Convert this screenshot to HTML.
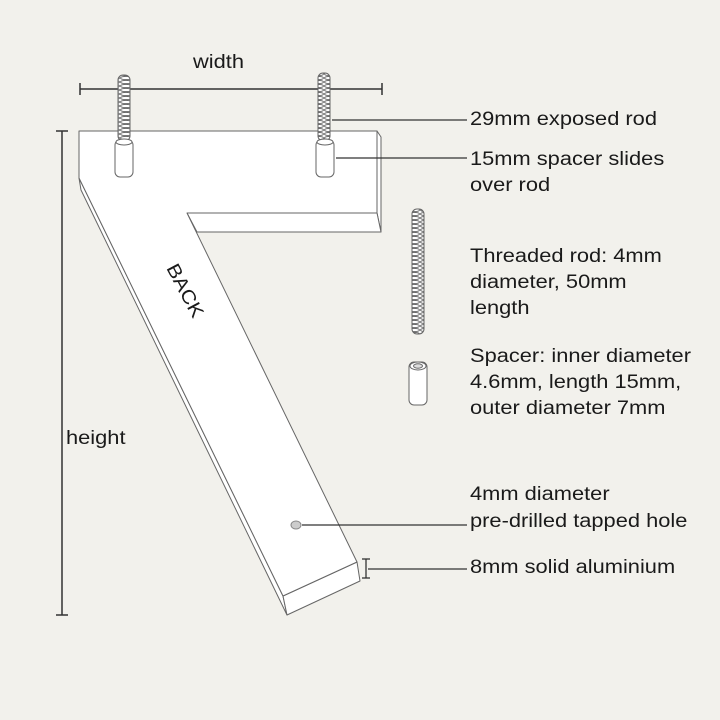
<!DOCTYPE html>
<html><head><style>
html,body{margin:0;padding:0;background:#f2f1ec;}
svg{display:block}
text{font-family:"Liberation Sans",sans-serif;font-size:19px;fill:#1a1a1a}
</style></head><body>
<svg width="720" height="720" viewBox="0 0 720 720" xmlns="http://www.w3.org/2000/svg">
<defs>
<pattern id="thr" width="12" height="4" patternUnits="userSpaceOnUse">
<rect width="12" height="4" fill="#fff"/>
<ellipse cx="6" cy="2" rx="5.5" ry="1.6" fill="none" stroke="#666" stroke-width="0.9"/>
</pattern>
</defs>
<rect width="720" height="720" fill="#f2f1ec"/>
<g stroke="#333" stroke-width="1.5" fill="none">
<line x1="80" y1="89" x2="382" y2="89"/><line x1="80" y1="83" x2="80" y2="95"/><line x1="382" y1="83" x2="382" y2="95"/>
<line x1="62" y1="131" x2="62" y2="615"/><line x1="56" y1="131" x2="68" y2="131"/><line x1="56" y1="615" x2="68" y2="615"/>
</g>
<g stroke="#666" stroke-width="1" fill="#fff" stroke-linejoin="round">
<polygon points="79,178 283,596 287,615 81,190"/>
<polygon points="283,596 357,562 360,581 287,615"/>
<polygon points="377,131 381,137 381,232 377,213"/>
<polygon points="187,213 377,213 381,232 197,232"/>
<polygon points="79,131 377,131 377,213 187,213 357,562 283,596 79,178"/>
</g>
<text transform="translate(166,268) rotate(62) scale(1.12,1)" font-size="17">BACK</text>
<g stroke="#666" stroke-width="1">
<rect x="118" y="75" width="12" height="66" rx="5" fill="url(#thr)"/>
<rect x="318" y="73" width="12" height="68" rx="5" fill="url(#thr)"/>
<rect x="115" y="140" width="18" height="37" rx="5" fill="#fff"/>
<ellipse cx="124" cy="142" rx="8" ry="3" fill="#fff"/>
<rect x="316" y="140" width="18" height="37" rx="5" fill="#fff"/>
<ellipse cx="325" cy="142" rx="8" ry="3" fill="#fff"/>
<rect x="412" y="209" width="12" height="125" rx="5" fill="url(#thr)"/>
<rect x="409" y="362" width="18" height="43" rx="5" fill="#fff"/>
<ellipse cx="418" cy="366" rx="8" ry="4" fill="#fff"/>
<ellipse cx="418" cy="366" rx="4.5" ry="2.2" fill="#ddd"/>
</g>
<ellipse cx="296" cy="525" rx="5" ry="4" fill="#ccc" stroke="#888"/>
<g stroke="#333" stroke-width="1.3" fill="none">
<line x1="332" y1="120" x2="467" y2="120"/>
<line x1="336" y1="158" x2="467" y2="158"/>
<line x1="302" y1="525" x2="467" y2="525"/>
<line x1="366" y1="559" x2="366" y2="578"/><line x1="362" y1="559" x2="370" y2="559"/><line x1="362" y1="578" x2="370" y2="578"/>
<line x1="368" y1="569" x2="467" y2="569"/>
</g>
<text transform="translate(193,68) scale(1.15,1)">width</text>
<text transform="translate(66,444) scale(1.15,1)">height</text>
<g transform="translate(470,0) scale(1.15,1)">
<text x="0" y="125">29mm exposed rod</text>
<text x="0" y="165">15mm spacer slides</text>
<text x="0" y="191">over rod</text>
<text x="0" y="262">Threaded rod: 4mm</text>
<text x="0" y="288">diameter, 50mm</text>
<text x="0" y="314">length</text>
<text x="0" y="362">Spacer: inner diameter</text>
<text x="0" y="388">4.6mm, length 15mm,</text>
<text x="0" y="414">outer diameter 7mm</text>
<text x="0" y="500">4mm diameter</text>
<text x="0" y="527">pre-drilled tapped hole</text>
<text x="0" y="573">8mm solid aluminium</text>
</g>
</svg>
</body></html>
